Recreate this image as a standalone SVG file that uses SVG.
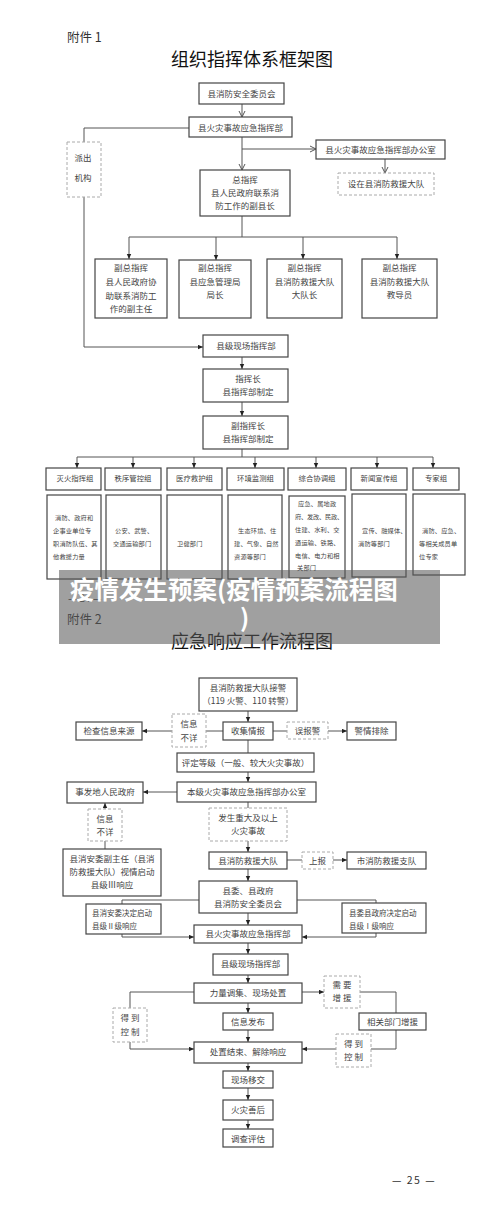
<svg xmlns="http://www.w3.org/2000/svg" width="500" height="1214" viewBox="0 0 500 1214">
<style>
.b{fill:#fff;stroke:#444;stroke-width:1.2}
.d{fill:#fff;stroke:#aaa;stroke-width:1;stroke-dasharray:3,2}
.c{fill:none;stroke:#555;stroke-width:1}
text{font-family:"Noto Sans CJK SC","Noto Sans",sans-serif;fill:#444}
.t{font-size:8.5px;text-anchor:middle}
.g{font-size:7.4px;text-anchor:middle}
.s{font-size:7.5px}
.x{font-size:6.2px;letter-spacing:0.2px}
.h{font-size:18px;fill:#111;text-anchor:middle}
.f{font-size:12.5px;fill:#333}
</style>
<defs>
<marker id="ao" markerWidth="8" markerHeight="8" refX="7" refY="4" orient="auto" markerUnits="userSpaceOnUse"><path d="M1,1 L7,4 L1,7" fill="none" stroke="#555" stroke-width="1"/></marker>
<marker id="af" markerWidth="6" markerHeight="6" refX="5" refY="2.5" orient="auto" markerUnits="userSpaceOnUse"><path d="M0,0.3 L5,2.5 L0,4.7 Z" fill="#222"/></marker>
</defs>
<rect width="500" height="1214" fill="#fff"/>

<text class="f" x="67" y="42">附件 1</text>
<text class="h" x="252" y="66">组织指挥体系框架图</text>

<g id="connectors1">
<path class="c" d="M242,104 V117" marker-end="url(#ao)"/>
<path class="c" d="M189,128 H84 V142"/>
<path class="c" d="M84,197 V347 H203" marker-end="url(#af)"/>
<path class="c" d="M242,137 V170" marker-end="url(#ao)"/>
<path class="c" d="M242,149 H316" marker-end="url(#ao)"/>
<path class="c" d="M385,159 V173" marker-end="url(#ao)"/>
<path class="c" d="M242,216 V237 M129,237 H397"/>
<path class="c" d="M129,237 V259" marker-end="url(#af)"/>
<path class="c" d="M216,237 V260" marker-end="url(#af)"/>
<path class="c" d="M303,237 V259" marker-end="url(#af)"/>
<path class="c" d="M397,237 V259" marker-end="url(#af)"/>
<path class="c" d="M242,357 V369" marker-end="url(#af)"/>
<path class="c" d="M242,402 V416" marker-end="url(#af)"/>
<path class="c" d="M242,449 V457 M77,457 H433"/>
<path class="c" d="M77,457 V468" marker-end="url(#af)"/>
<path class="c" d="M133,457 V468" marker-end="url(#af)"/>
<path class="c" d="M194,457 V468" marker-end="url(#af)"/>
<path class="c" d="M255,457 V468" marker-end="url(#af)"/>
<path class="c" d="M316,457 V468" marker-end="url(#af)"/>
<path class="c" d="M377,457 V468" marker-end="url(#af)"/>
<path class="c" d="M433,457 V468" marker-end="url(#af)"/>
</g>

<g id="n-xfaw"><rect class="b" x="199" y="83" width="85" height="21"/><text class="t" x="241.5" y="97">县消防安全委员会</text></g>
<g id="n-zhb"><rect class="b" x="189" y="117" width="103" height="20"/><text class="t" x="240.5" y="130.5">县火灾事故应急指挥部</text></g>
<g id="n-pcjg"><rect class="d" x="67" y="142" width="34" height="55"/><text class="t" x="83" y="161">派出</text><text class="t" x="83" y="181">机构</text></g>
<g id="n-bgs"><rect class="b" x="316" y="140" width="129" height="19"/><text class="t" x="380.5" y="152.5">县火灾事故应急指挥部办公室</text></g>
<g id="n-szd"><rect class="d" x="338" y="173" width="96" height="22"/><text class="t" x="386" y="187">设在县消防救援大队</text></g>
<g id="n-zzh"><rect class="b" x="200" y="170" width="90" height="46"/><text class="t" x="245" y="183">总指挥</text><text class="t" x="245" y="196">县人民政府联系消</text><text class="t" x="245" y="209">防工作的副县长</text></g>
<g id="n-fz1"><rect class="b" x="95" y="259" width="72" height="59"/><text class="t" x="131" y="271">副总指挥</text><text class="t" x="131" y="285">县人民政府协</text><text class="t" x="131" y="299">助联系消防工</text><text class="t" x="131" y="312">作的副主任</text></g>
<g id="n-fz2"><rect class="b" x="179" y="260" width="72" height="58"/><text class="t" x="215" y="271">副总指挥</text><text class="t" x="215" y="285">县应急管理局</text><text class="t" x="215" y="298">局长</text></g>
<g id="n-fz3"><rect class="b" x="267" y="259" width="75" height="59"/><text class="t" x="304.5" y="271">副总指挥</text><text class="t" x="304.5" y="285">县消防救援大队</text><text class="t" x="304.5" y="298">大队长</text></g>
<g id="n-fz4"><rect class="b" x="362" y="259" width="75" height="59"/><text class="t" x="399.5" y="271">副总指挥</text><text class="t" x="399.5" y="285">县消防救援大队</text><text class="t" x="399.5" y="298">教导员</text></g>
<g id="n-xczh"><rect class="b" x="203" y="335" width="85" height="22"/><text class="t" x="246" y="349">县级现场指挥部</text></g>
<g id="n-zhz"><rect class="b" x="203" y="369" width="85" height="33"/><text class="t" x="248" y="382">指挥长</text><text class="t" x="248" y="395">县指挥部制定</text></g>
<g id="n-fzhz"><rect class="b" x="203" y="416" width="85" height="33"/><text class="t" x="248" y="429">副指挥长</text><text class="t" x="248" y="442">县指挥部制定</text></g>

<g id="n-g1"><rect class="b" x="46" y="468" width="55" height="22"/><text class="g" x="75" y="481">灭火指挥组</text></g>
<g id="n-g2"><rect class="b" x="105" y="468" width="56" height="22"/><text class="g" x="133" y="481">秩序管控组</text></g>
<g id="n-g3"><rect class="b" x="167" y="468" width="55" height="22"/><text class="g" x="194.5" y="481">医疗救护组</text></g>
<g id="n-g4"><rect class="b" x="227" y="468" width="57" height="22"/><text class="g" x="255.5" y="481">环境监测组</text></g>
<g id="n-g5"><rect class="b" x="288" y="468" width="58" height="22"/><text class="g" x="317" y="481">综合协调组</text></g>
<g id="n-g6"><rect class="b" x="351" y="468" width="56" height="22"/><text class="g" x="379" y="481">新闻宣传组</text></g>
<g id="n-g7"><rect class="b" x="413" y="468" width="46" height="22"/><text class="g" x="436" y="481">专家组</text></g>

<g id="n-d1"><rect class="b" x="47" y="495" width="54" height="84"/><text class="x" x="55" y="520">消防、政府和</text><text class="x" x="53" y="533">企事业单位专</text><text class="x" x="53" y="546">职消防队伍、其</text><text class="x" x="53" y="559">他救援力量</text></g>
<g id="n-d2"><rect class="b" x="106" y="495" width="55" height="84"/><text class="x" x="115" y="533">公安、武警、</text><text class="x" x="113" y="546">交通运输部门</text></g>
<g id="n-d3"><rect class="b" x="167" y="495" width="55" height="84"/><text class="x" x="177" y="546">卫健部门</text></g>
<g id="n-d4"><rect class="b" x="228" y="495" width="54" height="84"/><text class="x" x="238" y="533">生态环境、住</text><text class="x" x="234" y="546">建、气象、自然</text><text class="x" x="234" y="559">资源等部门</text></g>
<g id="n-d5"><rect class="b" x="289" y="496" width="56" height="82"/><text class="x" x="298" y="506">应急、属地政</text><text class="x" x="295" y="519" style="letter-spacing:-0.2px">府、发改、民政、</text><text class="x" x="295" y="532">住建、水利、交</text><text class="x" x="295" y="545">通运输、铁路、</text><text class="x" x="295" y="558">电信、电力和相</text><text class="x" x="297" y="570">关部门</text></g>
<g id="n-d6"><rect class="b" x="352" y="494" width="54" height="83"/><text class="x" x="362" y="533">宣传、融媒体、</text><text class="x" x="358" y="546">消防等部门</text></g>
<g id="n-d7"><rect class="b" x="413" y="494" width="52" height="81"/><text class="x" x="422" y="533">消防、应急、</text><text class="x" x="419" y="546">等相关成员单</text><text class="x" x="419" y="559">位专家</text></g>

<text x="68" y="602" style="font-size:10px;fill:#333">— 24 —</text>
<text class="f" x="67" y="624">附件 2</text>
<text class="h" x="252" y="648">应急响应工作流程图</text>

<g id="banner">
<rect x="59" y="570" width="381" height="74" fill="#585858" fill-opacity="0.57"/>
<text x="70" y="599" style="font-size:24.5px;font-weight:bold;fill:#fff">疫情发生预案(疫情预案流程图</text>
<text x="240" y="627" style="font-size:24.5px;font-weight:bold;fill:#fff">)</text>
</g>

<g id="connectors2">
<path class="c" d="M248,711 V722" marker-end="url(#af)"/>
<path class="c" d="M223,731 H206"/>
<path class="c" d="M172,731 H142" marker-end="url(#af)"/>
<path class="c" d="M273,731 H287"/>
<path class="c" d="M328,731 H347" marker-end="url(#af)"/>
<path class="c" d="M248,740 V753"/>
<path class="c" d="M248,772 V782" marker-end="url(#af)"/>
<path class="c" d="M177,792 H143" marker-end="url(#af)"/>
<path class="c" d="M105,809 V803" marker-end="url(#af)"/>
<path class="c" d="M105,841 V849"/>
<path class="c" d="M248,802 V808"/>
<path class="c" d="M248,841 V852" marker-end="url(#af)"/>
<path class="c" d="M287,860 H302"/>
<path class="c" d="M333,860 H347" marker-end="url(#af)"/>
<path class="c" d="M248,869 V881" marker-end="url(#af)"/>
<path class="c" d="M199,900 H122 V904"/>
<path class="c" d="M297,900 H376 V903"/>
<path class="c" d="M122,934 V937 H194" marker-end="url(#af)"/>
<path class="c" d="M376,933 V937 H302" marker-end="url(#af)"/>
<path class="c" d="M248,913 V925" marker-end="url(#af)"/>
<path class="c" d="M248,943 V954" marker-end="url(#af)"/>
<path class="c" d="M248,975 V983" marker-end="url(#af)"/>
<path class="c" d="M302,992 H324" marker-end="url(#af)"/>
<path class="c" d="M360,992 H396 V1013"/>
<path class="c" d="M194,992 H130 V1008"/>
<path class="c" d="M130,1042 V1049 H194" marker-end="url(#af)"/>
<path class="c" d="M248,1003 V1013" marker-end="url(#af)"/>
<path class="c" d="M396,1030 V1049 H371"/>
<path class="c" d="M336,1049 H302" marker-end="url(#af)"/>
<path class="c" d="M248,1030 V1042" marker-end="url(#af)"/>
<path class="c" d="M248,1063 V1071" marker-end="url(#af)"/>
<path class="c" d="M248,1088 V1100" marker-end="url(#af)"/>
<path class="c" d="M248,1120 V1129" marker-end="url(#af)"/>
</g>

<g id="f-jj"><rect class="b" x="199" y="678" width="98" height="33"/><text class="t" x="248" y="691">县消防救援大队接警</text><text class="t" x="248" y="704">（119 火警、110 转警）</text></g>
<g id="f-sj"><rect class="b" x="223" y="722" width="50" height="18"/><text class="t" x="248" y="734">收集情报</text></g>
<g id="f-xxbx1"><rect class="d" x="172" y="714" width="34" height="33"/><text class="t" x="189" y="727">信息</text><text class="t" x="189" y="741">不详</text></g>
<g id="f-jc"><rect class="b" x="76" y="722" width="66" height="18"/><text class="t" x="109" y="734">检查信息来源</text></g>
<g id="f-wbj"><rect class="d" x="287" y="722" width="41" height="17"/><text class="t" x="307.5" y="734">误报警</text></g>
<g id="f-jqpc"><rect class="b" x="347" y="722" width="49" height="18"/><text class="t" x="371.5" y="734">警情排除</text></g>
<g id="f-pd"><rect class="b" x="177" y="753" width="137" height="19"/><text class="t" x="245.5" y="765.5">评定等级（一般、较大火灾事故）</text></g>
<g id="f-bgs"><rect class="b" x="177" y="782" width="139" height="20"/><text class="t" x="246.5" y="795">本级火灾事故应急指挥部办公室</text></g>
<g id="f-sfd"><rect class="b" x="67" y="782" width="76" height="21"/><text class="t" x="105" y="795">事发地人民政府</text></g>
<g id="f-xxbx2"><rect class="d" x="88" y="809" width="34" height="32"/><text class="t" x="105" y="822">信息</text><text class="t" x="105" y="835">不详</text></g>
<g id="f-xjiii"><rect class="b" x="63" y="849" width="98" height="47"/><text class="t" x="112" y="862">县消安委副主任（县消</text><text class="t" x="112" y="875">防救援大队）视情启动</text><text class="t" x="112" y="888">县级Ⅲ响应</text></g>
<g id="f-zd"><rect class="d" x="209" y="808" width="78" height="33"/><text class="t" x="248" y="821">发生重大及以上</text><text class="t" x="248" y="834">火灾事故</text></g>
<g id="f-xfd"><rect class="b" x="209" y="852" width="78" height="17"/><text class="t" x="248" y="864">县消防救援大队</text></g>
<g id="f-sb"><rect class="d" x="302" y="852" width="31" height="17"/><text class="t" x="317.5" y="864">上报</text></g>
<g id="f-szd"><rect class="b" x="347" y="852" width="79" height="17"/><text class="t" x="386.5" y="864">市消防救援支队</text></g>
<g id="f-xw"><rect class="b" x="199" y="881" width="98" height="32"/><text class="t" x="248" y="894">县委、县政府</text><text class="t" x="248" y="907">县消防安全委员会</text></g>
<g id="f-ii"><rect class="b" x="86" y="904" width="75" height="30"/><text class="s" x="92" y="916">县消安委决定启动</text><text class="s" x="92" y="929">县级Ⅱ级响应</text></g>
<g id="f-i"><rect class="b" x="342" y="903" width="84" height="30"/><text class="s" x="349" y="916">县委县政府决定启动</text><text class="s" x="349" y="929">县级Ⅰ级响应</text></g>
<g id="f-zhb"><rect class="b" x="194" y="925" width="108" height="18"/><text class="t" x="248" y="937">县火灾事故应急指挥部</text></g>
<g id="f-xczh"><rect class="b" x="213" y="954" width="75" height="21"/><text class="t" x="250.5" y="967">县级现场指挥部</text></g>
<g id="f-ll"><rect class="b" x="194" y="983" width="108" height="20"/><text class="t" x="248" y="996">力量调集、现场处置</text></g>
<g id="f-xyzy"><rect class="d" x="324" y="976" width="36" height="32"/><text class="t" x="342" y="988">需 要</text><text class="t" x="342" y="1001">增 援</text></g>
<g id="f-xgbm"><rect class="b" x="359" y="1013" width="67" height="17"/><text class="t" x="392.5" y="1025">相关部门增援</text></g>
<g id="f-ddkz1"><rect class="d" x="113" y="1008" width="34" height="34"/><text class="t" x="130" y="1021">得 到</text><text class="t" x="130" y="1035">控 制</text></g>
<g id="f-xxfb"><rect class="b" x="223" y="1013" width="50" height="17"/><text class="t" x="248" y="1025">信息发布</text></g>
<g id="f-ddkz2"><rect class="d" x="336" y="1034" width="35" height="33"/><text class="t" x="353.5" y="1047">得 到</text><text class="t" x="353.5" y="1060">控 制</text></g>
<g id="f-czjs"><rect class="b" x="194" y="1042" width="108" height="21"/><text class="t" x="248" y="1055">处置结束、解除响应</text></g>
<g id="f-xcyj"><rect class="b" x="223" y="1071" width="50" height="17"/><text class="t" x="248" y="1083">现场移交</text></g>
<g id="f-hzsh"><rect class="b" x="223" y="1100" width="50" height="20"/><text class="t" x="248" y="1113">火灾善后</text></g>
<g id="f-dcpg"><rect class="b" x="223" y="1129" width="50" height="18"/><text class="t" x="248" y="1141.5">调查评估</text></g>

<text x="392" y="1184" style="font-size:10.5px;fill:#333;letter-spacing:1.5px">— 25 —</text>
</svg>
